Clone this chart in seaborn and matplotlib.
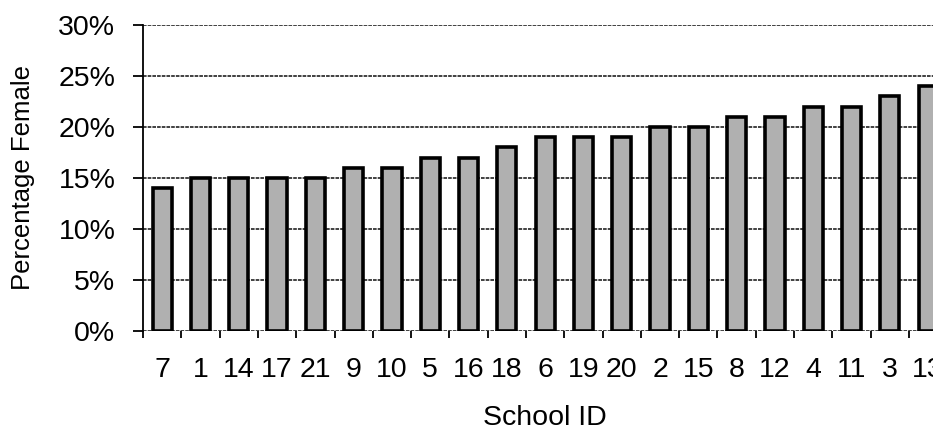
import matplotlib
matplotlib.use("Agg")
import matplotlib.pyplot as plt
from matplotlib.ticker import FixedLocator, PercentFormatter
import seaborn as sns
import pandas as pd

# School IDs, ordered by share of female students
school_ids = ["7", "1", "14", "17", "21", "9", "10", "5", "16", "18", "6",
              "19", "20", "2", "15", "8", "12", "4", "11", "3", "13"]
pct_female = [14, 15, 15, 15, 15, 16, 16, 17, 17, 18, 19,
              19, 19, 20, 20, 21, 21, 22, 22, 23, 24]
y_ticks = [0, 5, 10, 15, 20, 25, 30]

df = pd.DataFrame({"School ID": school_ids, "Percentage Female": pct_female})

sns.set_style("white")
plt.rcParams["font.family"] = ["Liberation Sans", "DejaVu Sans"]
plt.rcParams["text.color"] = "black"
plt.rcParams["axes.labelcolor"] = "black"
plt.rcParams["xtick.color"] = "black"
plt.rcParams["ytick.color"] = "black"

fig = plt.figure(figsize=(9.33, 4.33), dpi=100)
ax = fig.add_axes([0.1533, 0.2356, 0.862, 0.7067])

sns.barplot(data=df, x="School ID", y="Percentage Female", order=school_ids,
            color="#b0b0b0", saturation=1, width=0.5,
            edgecolor="black", linewidth=2.6, ax=ax, zorder=3)

ax.set_ylim(0, 30)
ax.set_xlim(-0.5, len(school_ids) - 0.5)
ax.yaxis.set_major_locator(FixedLocator(y_ticks))
ax.yaxis.set_major_formatter(PercentFormatter(decimals=0))
ax.grid(axis="y", color="#333333", linewidth=1.3, linestyle=(0, (2, 0.6)), zorder=0)

for side in ["top", "right", "bottom"]:
    ax.spines[side].set_visible(False)
ax.spines["left"].set_color("black")
ax.spines["left"].set_linewidth(1.3)
ax.spines["left"].set_zorder(4)

# tick marks sit between categories on the x axis
ax.tick_params(axis="x", which="major", length=0, labelsize=20.5, pad=18.5,
               labelcolor="black")
ax.xaxis.set_minor_locator(FixedLocator([i + 0.5 for i in range(-1, len(school_ids))]))
ax.tick_params(axis="x", which="minor", direction="out", length=5, width=1.3,
               color="black", bottom=True)
ax.tick_params(axis="y", direction="out", length=7, width=1.3, color="black",
               left=True, labelsize=20.5, pad=13, labelcolor="black")

ax.set_xlabel("School ID", fontsize=20.5, labelpad=16, color="black")
ax.set_ylabel("Percentage Female", fontsize=18.5, labelpad=17, color="black")

fig.savefig("out.png", dpi=100)
